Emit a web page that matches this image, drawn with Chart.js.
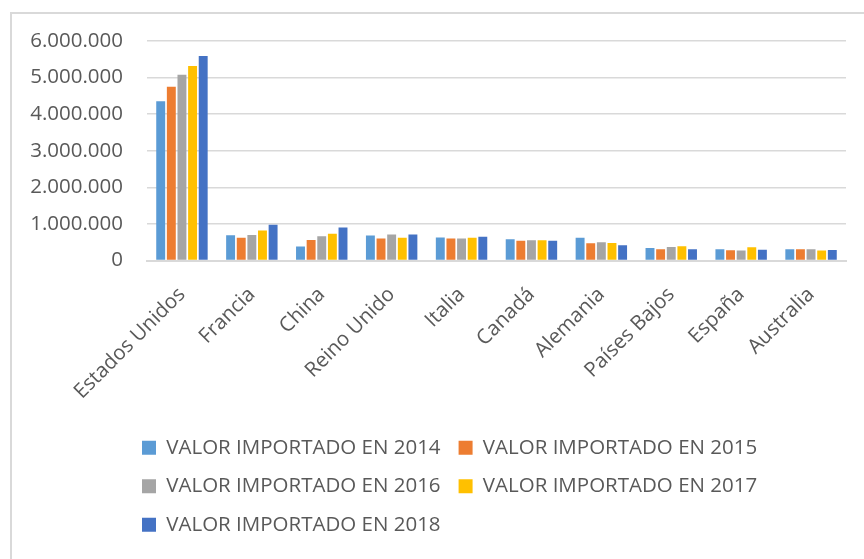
<!DOCTYPE html>
<html>
<head>
<meta charset="utf-8">
<script src="https://cdn.jsdelivr.net/npm/chart.js@4"></script>
<style>
  html, body { margin: 0; padding: 0; background: #fff; }
  #wrap { position: relative; width: 864px; height: 559px; overflow: hidden; }
  #frame { position: absolute; left: 10px; top: 12px; width: 900px; height: 600px;
           border-left: 2px solid #d9d9d9; border-top: 2px solid #d9d9d9; }
  #importChart { position: absolute; left: 0; top: 0; }
</style>
</head>
<body>
<div id="wrap">
  <div id="frame"></div>
  <canvas id="importChart" width="864" height="559"></canvas>
</div>
<script>
var paises = ['Estados Unidos', 'Francia', 'China', 'Reino Unido', 'Italia', 'Canadá', 'Alemania', 'Países Bajos', 'España', 'Australia'];

var valor2014 = [4350000, 690000, 385000, 680000, 630000, 580000, 620000, 340000, 305000, 305000];
var valor2015 = [4750000, 620000, 560000, 600000, 600000, 540000, 470000, 310000, 280000, 305000];
var valor2016 = [5080000, 700000, 660000, 710000, 600000, 555000, 500000, 370000, 270000, 305000];
var valor2017 = [5320000, 820000, 730000, 620000, 620000, 555000, 480000, 390000, 360000, 270000];
var valor2018 = [5590000, 980000, 900000, 710000, 650000, 540000, 420000, 310000, 295000, 290000];

var yMax = 6000000;
var yStep = 1000000;

function puntos(v){
  return String(v).replace(/\B(?=(\d{3})+(?!\d))/g, '.');
}

function serie(label, data, color){
  return {
    label: label,
    data: data,
    backgroundColor: color,
    borderWidth: 0,
    categoryPercentage: 0.76,
    barPercentage: 0.84
  };
}

// legend starts under the plot like in excel, not at the canvas edge
var legendLeft = 124;
var moverLeyenda = {
  id: 'moverLeyenda',
  afterLayout: function(chart){
    chart.legend.left = legendLeft;
  }
};

var fuente = {family: 'Open Sans', size: 20.5};

var ctx = document.getElementById('importChart').getContext('2d');
new Chart(ctx, {
  type: 'bar',
  data: {
    labels: paises,
    datasets: [
      serie('VALOR IMPORTADO EN 2014', valor2014, '#5b9bd5'),
      serie('VALOR IMPORTADO EN 2015', valor2015, '#ed7d31'),
      serie('VALOR IMPORTADO EN 2016', valor2016, '#a5a5a5'),
      serie('VALOR IMPORTADO EN 2017', valor2017, '#ffc000'),
      serie('VALOR IMPORTADO EN 2018', valor2018, '#4472c4')
    ]
  },
  plugins: [moverLeyenda],
  options: {
    responsive: false,
    animation: false,
    layout: {
      padding: {left: 10, right: 18, top: 41, bottom: 14}
    },
    plugins: {
      tooltip: {enabled: false},
      legend: {
        position: 'bottom',
        align: 'start',
        labels: {
          color: '#595959',
          boxWidth: 14,
          boxHeight: 14,
          padding: 18,
          font: fuente
        }
      }
    },
    scales: {
      x: {
        afterFit: function(s){ s.height = 159; },
        grid: {display: false, drawTicks: false},
        border: {display: true, color: '#d9d9d9', width: 2},
        ticks: {
          color: '#595959',
          autoSkip: false,
          maxRotation: 45,
          minRotation: 45,
          padding: 22,
          font: fuente
        }
      },
      y: {
        min: 0,
        max: yMax,
        afterFit: function(s){ s.width = 137; },
        grid: {color: '#d9d9d9', lineWidth: 1.5, drawTicks: false},
        border: {display: false},
        ticks: {
          stepSize: yStep,
          color: '#595959',
          padding: 24,
          font: fuente,
          callback: function(v){ return puntos(v); }
        }
      }
    }
  }
});
</script>
</body>
</html>
